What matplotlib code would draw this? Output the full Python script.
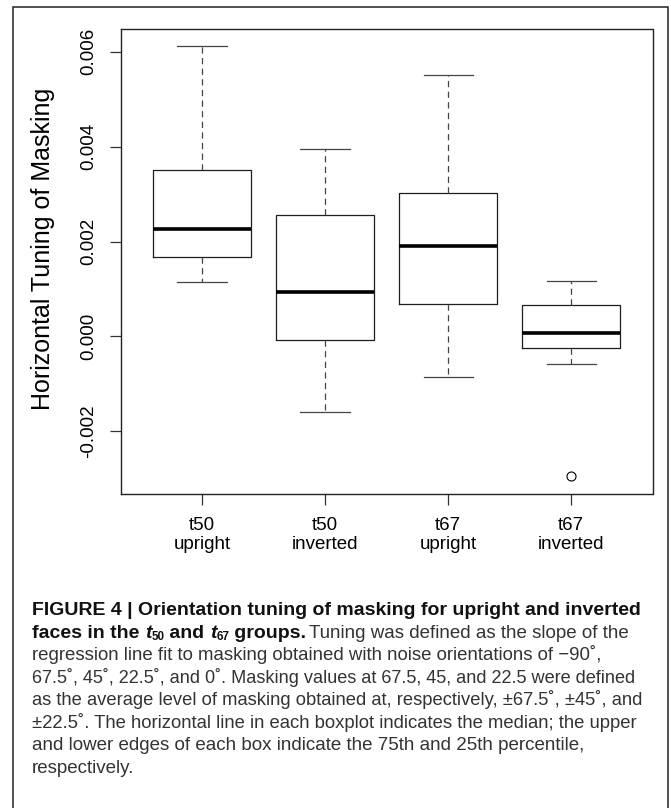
import matplotlib
matplotlib.use("Agg")
import matplotlib.pyplot as plt
from matplotlib.patches import Rectangle
from matplotlib import font_manager

# ---- data ----
groups = ["t50\nupright", "t50\ninverted", "t67\nupright", "t67\ninverted"]
whislo = [0.00114, -0.00159, -0.00086, -0.00057]
q1 = [0.00168, -0.00008, 0.00069, -0.00025]
med = [0.00226, 0.00093, 0.00191, 0.00008]
q3 = [0.00351, 0.00256, 0.00303, 0.00067]
whishi = [0.00611, 0.00396, 0.00552, 0.00116]
fliers = [[], [], [], [-0.00295]]
yticks = [-0.002, 0.0, 0.002, 0.004, 0.006]
ytick_labels = ["-0.002", "0.000", "0.002", "0.004", "0.006"]

W, H = 671, 808
fig = plt.figure(figsize=(W / 100, H / 100), dpi=100)

names = {f.name for f in font_manager.fontManager.ttflist}
narrow = "Liberation Sans Narrow" if "Liberation Sans Narrow" in names else "Liberation Sans"
plt.rcParams["font.family"] = ["Liberation Sans", "DejaVu Sans"]

# outer frame (bottom edge runs off the page)
fig.add_artist(Rectangle((13 / W, -0.02), (668 - 13) / W, 1 - 7 / H + 0.02,
                         transform=fig.transFigure, fill=False,
                         edgecolor="#222222", lw=1.1))

ax = fig.add_axes([120.7 / W, 1 - 493.7 / H, (652.5 - 120.7) / W, (493.7 - 29.3) / H])

stats = []
for i in range(len(groups)):
    stats.append(dict(whislo=whislo[i], q1=q1[i], med=med[i], q3=q3[i],
                      whishi=whishi[i], fliers=fliers[i]))

pos = list(range(1, len(groups) + 1))
ax.bxp(stats, positions=pos, widths=0.8, capwidths=0.4, showfliers=True,
       boxprops=dict(color="#1e1e1e", lw=0.9),
       medianprops=dict(color="black", lw=2.6, solid_capstyle="butt"),
       whiskerprops=dict(color="#444444", lw=0.9, linestyle=(0, (5, 3.5))),
       capprops=dict(color="#444444", lw=0.9),
       flierprops=dict(marker="o", markersize=6.5, markerfacecolor="none",
                       markeredgecolor="black", markeredgewidth=0.8))

# R style 4% axis extension
lo, hi = 0.5, len(groups) + 0.5
ax.set_xlim(lo - 0.04 * (hi - lo), hi + 0.04 * (hi - lo))
allv = whislo + whishi + [v for f in fliers for v in f]
ymin, ymax = min(allv), max(allv)
ax.set_ylim(ymin - 0.04 * (ymax - ymin), ymax + 0.04 * (ymax - ymin))

ax.set_xticks(pos)
ax.set_xticklabels(groups, fontsize=13.5, linespacing=1.12)
ax.set_yticks(yticks)
ax.set_yticklabels(ytick_labels, fontsize=13.5, rotation=90, va="center")
ax.tick_params(axis="both", length=8, width=0.9, color="#333333")
ax.tick_params(axis="y", pad=9)
ax.tick_params(axis="x", pad=9)
for s in ax.spines.values():
    s.set_linewidth(1.0)
    s.set_color("#222222")
ax.set_ylabel("Horizontal Tuning of Masking", fontsize=18)
ax.yaxis.set_label_coords(-0.1235, 0.527)

# ---- caption ----
fig.canvas.draw()
renderer = fig.canvas.get_renderer()


def run(x, y, s, **kw):
    """draw text s at pixel x (baseline y) and return the x where it ends"""
    t = fig.text(x / W, 1 - y / H, s, transform=fig.transFigure, va="baseline",
                 ha="left", family=[narrow, "DejaVu Sans"], **kw)
    bb = t.get_window_extent(renderer)
    return t, bb.x1


x0 = 32
base = [615, 637.5, 660, 682.7, 705.3, 728, 750.5, 773]
bold = dict(fontsize=14.0, fontweight="bold", color="#111111")
norm = dict(fontsize=13.5, color="#333333")
sub = dict(fontsize=14.0 * 0.6, fontweight="bold", color="#111111")

run(x0, base[0], "FIGURE 4 | Orientation tuning of masking for upright and inverted", **bold)
_, x = run(x0, base[1], "faces in the ", **bold)
_, x = run(x, base[1], "t", style="italic", **bold)
_, x = run(x, base[1] + 2, "50", **sub)
_, x = run(x, base[1], " and ", **bold)
_, x = run(x, base[1], "t", style="italic", **bold)
_, x = run(x, base[1] + 2, "67", **sub)
_, x = run(x, base[1], " groups.", **bold)
run(x + 3, base[1], "Tuning was defined as the slope of the", **norm)

deg = "\u02da"
lines = [
    "regression line fit to masking obtained with noise orientations of \u221290" + deg + ",",
    "67.5" + deg + ", 45" + deg + ", 22.5" + deg + ", and 0" + deg
    + ". Masking values at 67.5, 45, and 22.5 were defined",
    "as the average level of masking obtained at, respectively, \u00b167.5" + deg
    + ", \u00b145" + deg + ", and",
    "\u00b122.5" + deg + ". The horizontal line in each boxplot indicates the median; the upper",
    "and lower edges of each box indicate the 75th and 25th percentile,",
    "respectively.",
]
# right ends of the justified-looking lines in the page (pixels)
line_ends = [604, 641, 640, 640, 587, None]
for i, s in enumerate(lines):
    t, x1 = run(x0, base[i + 2], s, **norm)
    if line_ends[i] is not None and x1 > line_ends[i]:
        t.set_fontsize(norm["fontsize"] * (line_ends[i] - x0) / (x1 - x0))

fig.savefig("out.png", dpi=100)
